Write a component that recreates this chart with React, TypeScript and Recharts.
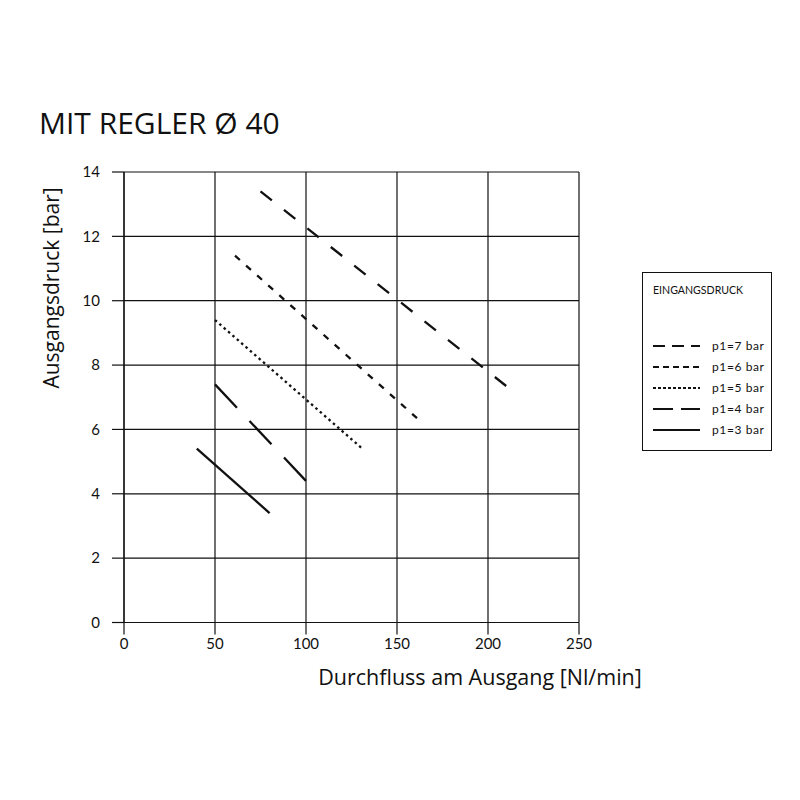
import { CartesianGrid, Label, Legend, Line, LineChart, XAxis, YAxis } from "recharts";

// Kennlinien "MIT REGLER Ø 40": Ausgangsdruck über Durchfluss
const flowTicks = [0, 50, 100, 150, 200, 250];
const pressureTicks = [0, 2, 4, 6, 8, 10, 12, 14];

const legendTitle = "EINGANGSDRUCK";
const seriesNames = ["p1=7 bar", "p1=6 bar", "p1=5 bar", "p1=4 bar", "p1=3 bar"];

const p7Flow = [75, 210];
const p7Pressure = [13.4, 7.35];
const p6Flow = [61, 161];
const p6Pressure = [11.4, 6.35];
const p5Flow = [50, 131];
const p5Pressure = [9.4, 5.4];
const p4Flow = [50, 100];
const p4Pressure = [7.4, 4.4];
const p3Flow = [40, 80];
const p3Pressure = [5.4, 3.4];

const toPoints = (flow: number[], pressure: number[]) =>
  flow.map((x, i) => ({ x, y: pressure[i] }));

// dash patterns tuned so each line ends on a dash, like the original
const series = [
  { name: seriesNames[0], data: toPoints(p7Flow, p7Pressure), dash: "14.5 15.4", legendDash: "12 7" },
  { name: seriesNames[1], data: toPoints(p6Flow, p6Pressure), dash: "6.5 8.34", legendDash: "6 4" },
  { name: seriesNames[2], data: toPoints(p5Flow, p5Pressure), dash: "2.5 3.3", legendDash: "3 2" },
  { name: seriesNames[3], data: toPoints(p4Flow, p4Pressure), dash: "32 18.3", legendDash: "20 8" },
  { name: seriesNames[4], data: toPoints(p3Flow, p3Pressure), dash: undefined, legendDash: undefined },
];

const ink = "#111";
const tickFont = { fill: ink, fontSize: 15, fontFamily: "Lato" };

function LegendBox() {
  return (
    <svg width={130} height={179} style={{ display: "block" }}>
      <rect x={0.5} y={0.5} width={129} height={178} fill="#fff" stroke={ink} />
      <text x={11} y={22} fontSize={10.6} fontFamily="Lato" fill={ink}>
        {legendTitle}
      </text>
      {series.map((s, i) => (
        <g key={s.name}>
          <line
            x1={11}
            x2={58}
            y1={74 + i * 21}
            y2={74 + i * 21}
            stroke={ink}
            strokeWidth={2}
            strokeDasharray={s.legendDash}
          />
          <text x={70} y={78 + i * 21} fontSize={12} letterSpacing={0.6} fontFamily="Lato" fill={ink}>
            {s.name}
          </text>
        </g>
      ))}
    </svg>
  );
}

export default function App() {
  return (
    <div style={{ position: "absolute", left: 0, top: 0, width: 800, height: 800, background: "#fff" }}>
      <div
        style={{
          position: "absolute",
          left: 39,
          top: 108,
          fontFamily: "Open Sans",
          fontSize: 30,
          lineHeight: "30px",
          color: ink,
          whiteSpace: "nowrap",
        }}
      >
        MIT REGLER Ø 40
      </div>
      <LineChart
        width={800}
        height={800}
        margin={{ top: 172, right: 221, bottom: 147.5, left: 64 }}
      >
        <CartesianGrid stroke={ink} strokeWidth={1.2} />
        <XAxis
          type="number"
          dataKey="x"
          domain={[0, 250]}
          ticks={flowTicks}
          interval={0}
          height={30}
          tickSize={12}
          tickMargin={4}
          axisLine={{ stroke: ink, strokeWidth: 1.2 }}
          tickLine={{ stroke: ink, strokeWidth: 1.2 }}
          tick={tickFont}
        >
          <Label
            content={() => (
              <text x={480} y={685} textAnchor="middle" fontFamily="Open Sans" fontSize={21.5} fill={ink}>
                Durchfluss am Ausgang [Nl/min]
              </text>
            )}
          />
        </XAxis>
        <YAxis
          type="number"
          dataKey="y"
          domain={[0, 14]}
          ticks={pressureTicks}
          interval={0}
          width={60}
          tickSize={12}
          tickMargin={12}
          axisLine={{ stroke: ink, strokeWidth: 1.2 }}
          tickLine={{ stroke: ink, strokeWidth: 1.2 }}
          tick={tickFont}
        >
          <Label
            content={() => (
              <text
                transform="translate(59,288) rotate(-90)"
                textAnchor="middle"
                fontFamily="Open Sans"
                fontSize={21}
                fill={ink}
              >
                Ausgangsdruck [bar]
              </text>
            )}
          />
        </YAxis>
        <Legend
          layout="horizontal"
          verticalAlign="middle"
          content={() => <LegendBox />}
          wrapperStyle={{ left: 642, top: 272, width: 130, height: 179 }}
        />
        {series.map((s) => (
          <Line
            key={s.name}
            name={s.name}
            data={s.data}
            dataKey="y"
            type="linear"
            stroke={ink}
            strokeWidth={2.3}
            strokeDasharray={s.dash}
            dot={false}
            activeDot={false}
            isAnimationActive={false}
          />
        ))}
      </LineChart>
    </div>
  );
}
